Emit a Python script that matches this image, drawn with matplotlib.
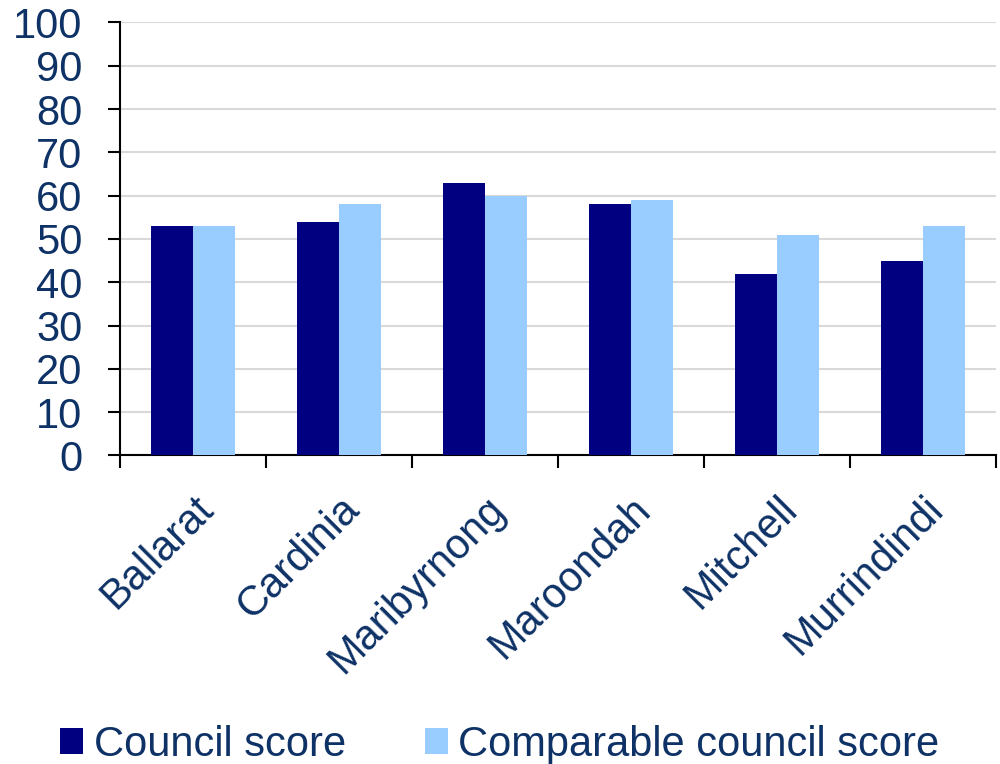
import matplotlib.pyplot as plt
import numpy as np

councils = ["Ballarat", "Cardinia", "Maribyrnong", "Maroondah", "Mitchell", "Murrindindi"]
council_score = [53, 54, 63, 58, 42, 45]
comparable_score = [53, 58, 60, 59, 51, 53]

plt.rcParams['font.family'] = ['Liberation Sans', 'DejaVu Sans']
txt = '#0E3266'

fig = plt.figure(figsize=(10, 7.64), dpi=100)
ax = fig.add_axes([0.12, 0.4038, 0.876, 0.5668])

x = np.arange(len(councils))
w = 0.285
ax.bar(x - w/2, council_score, w, color='#000080', label="Council score", zorder=3)
ax.bar(x + w/2, comparable_score, w, color='#99CCFF', label="Comparable council score", zorder=3)

ax.set_xlim(-0.5, len(councils) - 0.5)
ax.set_ylim(0, 100)
ax.set_yticks(np.arange(0, 101, 10))
ax.yaxis.grid(True, color='#D9D9D9', linewidth=1.5, zorder=0)

ax.set_xticks(x)
ax.set_xticklabels(councils, rotation=45, ha='right', rotation_mode='anchor')
ax.set_xticks(np.arange(-0.5, len(councils), 1), minor=True)
ax.tick_params(axis='x', which='major', length=0, pad=24, labelsize=30, labelcolor=txt)
ax.tick_params(axis='x', which='minor', length=9, width=1.5, direction='out')
ax.tick_params(axis='y', length=9, width=1.5, pad=18, labelsize=30, labelcolor=txt)

for s in ['top', 'right']:
    ax.spines[s].set_visible(False)
for s in ['left', 'bottom']:
    ax.spines[s].set_linewidth(1.5)

fig.legend(loc='lower center', bbox_to_anchor=(0.5, -0.05), ncol=2, frameon=False,
           fontsize=30, labelcolor=txt, handlelength=0.55, handleheight=0.55,
           handletextpad=0.25, columnspacing=1.9)

fig.savefig('out.png', dpi=100)
